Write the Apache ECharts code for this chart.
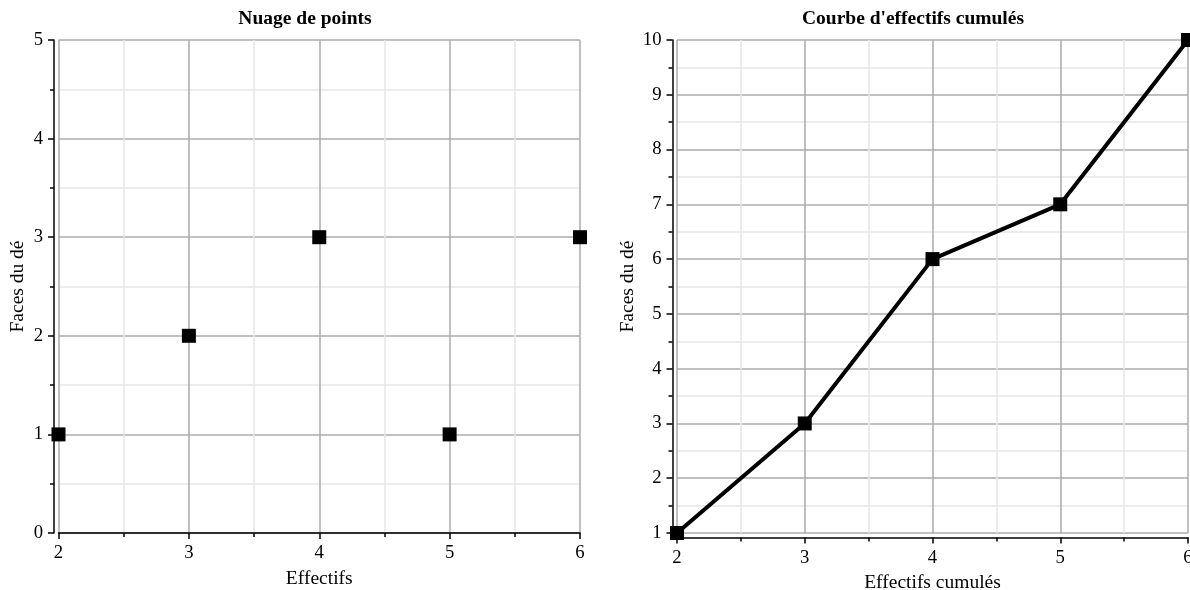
<!DOCTYPE html>
<html><head><meta charset="utf-8">
<script src="https://cdn.jsdelivr.net/npm/echarts@6/dist/echarts.min.js"></script>
<style>html,body{margin:0;padding:0;background:#fff;overflow:hidden}#c{width:1190px;height:590px}</style>
</head><body><div id="c"></div>
<script>
const faces = [2, 3, 4, 5, 6];
const effectifs = [1, 2, 3, 1, 3];
const cumules = [1, 3, 6, 7, 10];
const titles = ["Nuage de points", "Courbe d'effectifs cumulés"];
const xNames = ["Effectifs", "Effectifs cumulés"];
const yName = "Faces du dé";

const F = "'Liberation Serif', 'Times New Roman', serif";
const FS = 18.7;
const FN = 19.5;
const chart = echarts.init(document.getElementById('c'));

function xAx(idx, name, gap, off) {
  return {
    type: 'value', gridIndex: idx, min: 2, max: 6, interval: 1, offset: off,
    name: name, nameLocation: 'middle', nameGap: gap,
    nameTextStyle: { fontFamily: F, fontSize: FN, color: '#000' },
    axisLine: { show: true, onZero: false, lineStyle: { color: '#000', width: 1.5 } },
    axisTick: { show: true, length: 6, lineStyle: { color: '#000', width: 1.5 } },
    minorTick: { show: true, splitNumber: 2, length: 4, lineStyle: { color: '#000', width: 1.5 } },
    axisLabel: { fontFamily: F, fontSize: FS, color: '#000', margin: 11 },
    splitLine: { show: true, lineStyle: { color: '#ababab', width: 1.5 } },
    minorSplitLine: { show: true, lineStyle: { color: '#e6e6e6', width: 1.5 } }
  };
}
function yAx(idx, min, max, gap, off) {
  return {
    type: 'value', gridIndex: idx, min: min, max: max, interval: 1, offset: off,
    name: yName, nameLocation: 'middle', nameGap: gap, nameRotate: 90,
    nameTextStyle: { fontFamily: F, fontSize: FN, color: '#000' },
    axisLine: { show: true, onZero: false, lineStyle: { color: '#000', width: 1.5 } },
    axisTick: { show: true, length: 6, lineStyle: { color: '#000', width: 1.5 } },
    minorTick: { show: true, splitNumber: 2, length: 4, lineStyle: { color: '#000', width: 1.5 } },
    axisLabel: { fontFamily: F, fontSize: FS, color: '#000', margin: 11 },
    splitLine: { show: true, lineStyle: { color: '#ababab', width: 1.5 } },
    minorSplitLine: { show: true, lineStyle: { color: '#e6e6e6', width: 1.5 } }
  };
}

chart.setOption({
  animation: false,
  backgroundColor: '#fff',
  title: [
    { text: titles[0], left: 300, textAlign: 'center', top: 4,
      textStyle: { fontFamily: F, fontSize: FN, fontWeight: 'bold', color: '#000' } },
    { text: titles[1], left: 908, textAlign: 'center', top: 4,
      textStyle: { fontFamily: F, fontSize: FN, fontWeight: 'bold', color: '#000' } }
  ],
  grid: [
    { left: 58.5, right: 610, top: 40, bottom: 57, outerBoundsMode: 'none', containLabel: false },
    { left: 677, right: 2, top: 40, bottom: 57, outerBoundsMode: 'none', containLabel: false }
  ],
  xAxis: [xAx(0, xNames[0], 36, 0), xAx(1, xNames[1], 31, 4.5)],
  yAxis: [yAx(0, 0, 5, 26, 4.5), yAx(1, 1, 10, 35, 4.5)],
  series: [
    { type: 'scatter', xAxisIndex: 0, yAxisIndex: 0, symbol: 'rect', symbolSize: 14,
      clip: false, itemStyle: { color: '#000', opacity: 1 },
      data: faces.map((f, i) => [f, effectifs[i]]) },
    { type: 'line', xAxisIndex: 1, yAxisIndex: 1, symbol: 'rect', symbolSize: 14,
      showAllSymbol: true, clip: false,
      lineStyle: { color: '#000', width: 4 }, itemStyle: { color: '#000', opacity: 1 },
      data: faces.map((f, i) => [f, cumules[i]]) }
  ]
});
</script></body></html>
